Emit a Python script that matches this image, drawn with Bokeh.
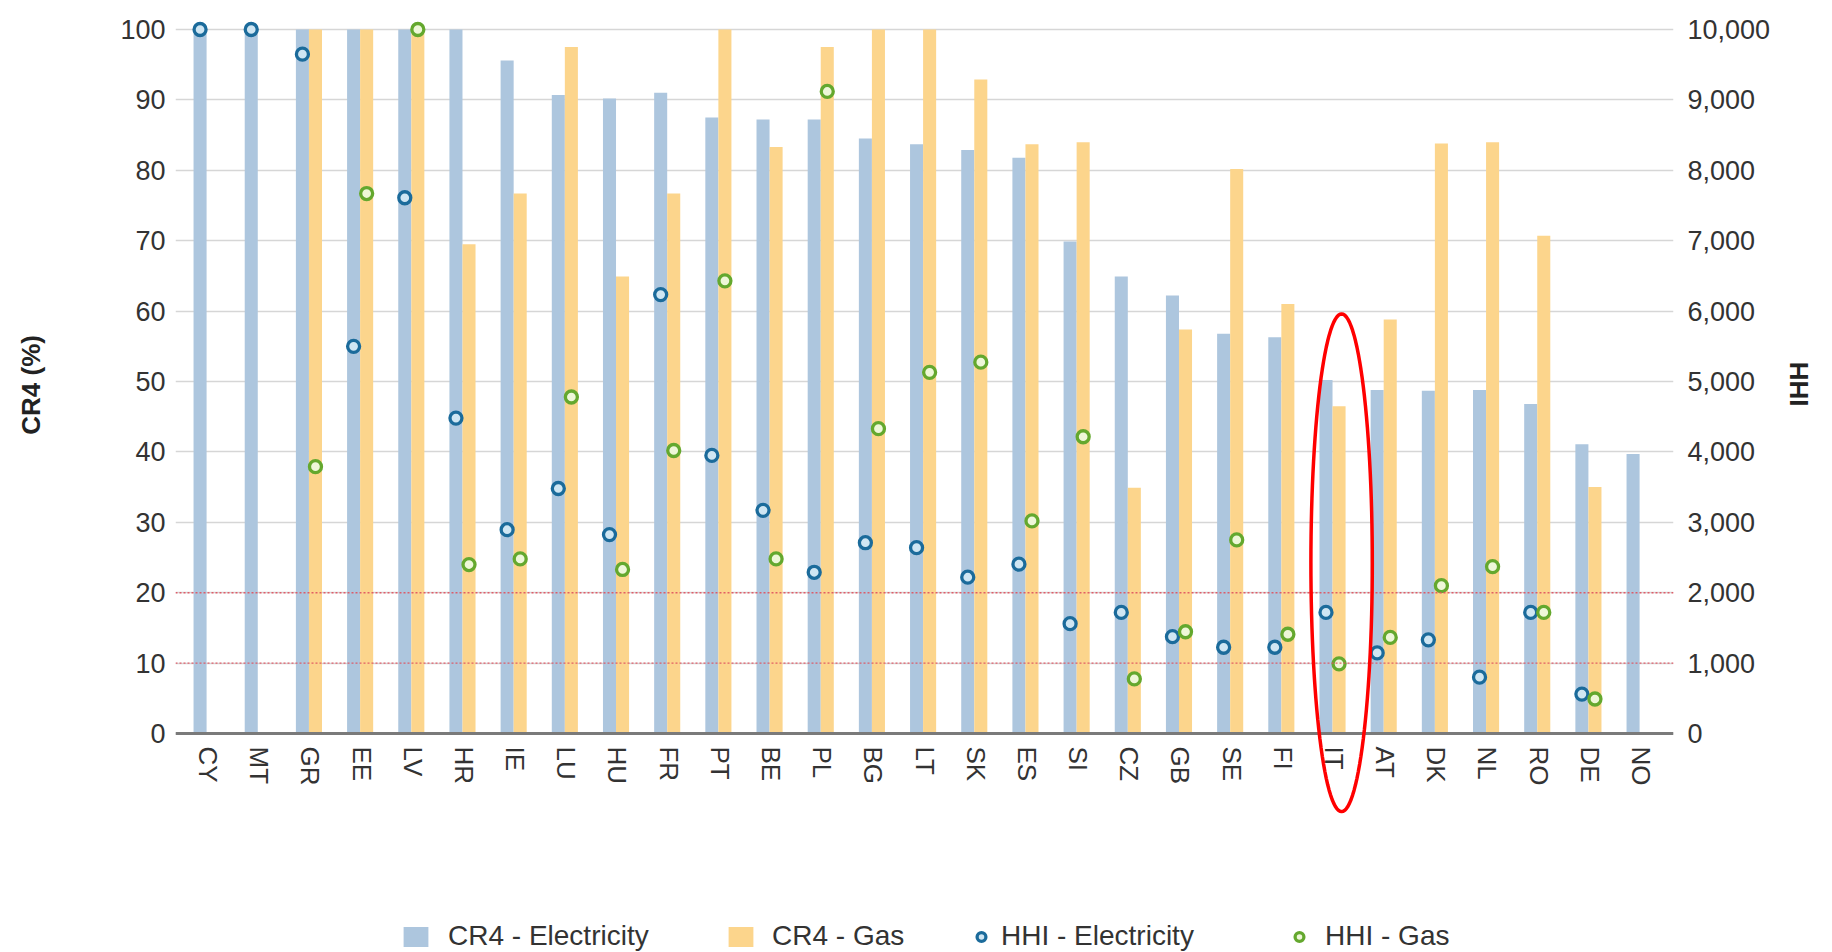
import math
from bokeh.plotting import figure
from bokeh.models import (ColumnDataSource, FactorRange, Range1d, LinearAxis, FixedTicker,
                          NumeralTickFormatter, Span, Legend, LegendItem, PolyAnnotation)
from bokeh.transform import dodge
from bokeh.embed import file_html
from bokeh.resources import INLINE

# ---------------- data ----------------
countries = ["CY", "MT", "GR", "EE", "LV", "HR", "IE", "LU", "HU", "FR", "PT", "BE", "PL", "BG",
             "LT", "SK", "ES", "SI", "CZ", "GB", "SE", "FI", "IT", "AT", "DK", "NL", "RO", "DE", "NO"]

cr4_elec = [100, 100, 100, 100, 100, 100, 95.6, 90.7, 90.2, 91.0, 87.5, 87.2, 87.2, 84.5,
            83.7, 82.9, 81.8, 69.9, 64.9, 62.2, 56.8, 56.3, 50.2, 48.8, 48.7, 48.8, 46.8, 41.1, 39.7]

cr4_gas = [None, None, 100, 100, 100, 69.5, 76.7, 97.5, 64.9, 76.7, 100, 83.3, 97.5, 100,
           100, 92.9, 83.7, 84.0, 34.9, 57.4, 80.2, 61.0, 46.5, 58.8, 83.8, 84.0, 70.7, 35.0, None]

hhi_elec = [10000, 10000, 9650, 5500, 7610, 4480, 2895, 3480, 2825, 6235, 3950, 3170, 2290, 2710,
            2640, 2220, 2405, 1560, 1720, 1375, 1225, 1225, 1720, 1145, 1330, 800, 1720, 560, None]

hhi_gas = [None, None, 3790, 7670, 10000, 2400, 2480, 4780, 2330, 4020, 6430, 2480, 9120, 4330,
           5130, 5275, 3020, 4215, 775, 1445, 2750, 1410, 990, 1365, 2100, 2370, 1720, 490, None]

cr4_ticks = list(range(0, 101, 10))
hhi_ticks = list(range(0, 10001, 1000))
threshold_lines = [10, 20]
highlight_country = "IT"

# ---------------- styling ----------------
FONT = "Liberation Sans"
TEXT = "#333333"
C_ELEC = "#adc6de"
C_GAS = "#fcd58c"
M_ELEC_LINE, M_ELEC_FILL = "#1b6b9b", "#cfe6f3"
M_GAS_LINE, M_GAS_FILL = "#64a82e", "#eef7d8"
OFF_E, OFF_G, BAR_W = -0.155, 0.10, 0.255
NB = "\u00a0"

W, H = 1832, 952
Y100_PX, Y0_PX = 29, 733          # pixel rows of the 100 line and of the 0 line
PX_PER_UNIT = (Y0_PX - Y100_PX) / 100.0
Y_TOP = 100 + 10 / PX_PER_UNIT    # small headroom so markers at 100 are not cut
TOP = Y100_PX - 10
Y_LOW = -(H - Y0_PX) / PX_PER_UNIT   # frame reaches the bottom: room for labels, ellipse, legend


def src(vals):
    cs = [c for c, v in zip(countries, vals) if v is not None]
    vs = [v for v in vals if v is not None]
    return ColumnDataSource(dict(country=cs, value=vs))


p = figure(x_range=FactorRange(factors=countries, range_padding=0.135, range_padding_units="absolute"),
           y_range=Range1d(Y_LOW, Y_TOP), width=W, height=H,
           output_backend="svg", toolbar_location=None,
           min_border_left=175, min_border_right=152, min_border_top=TOP, min_border_bottom=0)
p.outline_line_color = None
p.background_fill_color = "white"
p.extra_y_ranges = {"hhi": Range1d(Y_LOW * 100, Y_TOP * 100)}

# grid
p.xgrid.grid_line_color = None
p.ygrid.ticker = FixedTicker(ticks=cr4_ticks)
p.ygrid.grid_line_color = "#d6d6d6"
p.ygrid.grid_line_width = 1.3

# bars
r_e = p.vbar(x=dodge("country", OFF_E, range=p.x_range), top="value", width=BAR_W,
             source=src(cr4_elec), fill_color=C_ELEC, line_color=None)
r_g = p.vbar(x=dodge("country", OFF_G, range=p.x_range), top="value", width=BAR_W,
             source=src(cr4_gas), fill_color=C_GAS, line_color=None)

# threshold lines
for t in threshold_lines:
    p.add_layout(Span(location=t, dimension="width", line_color="#e0505e",
                      line_dash="2 2", line_width=1.4, line_alpha=0.9))

# HHI markers
m_e = p.scatter(x=dodge("country", OFF_E, range=p.x_range), y="value", y_range_name="hhi",
                source=src(hhi_elec), marker="circle", size=12, line_width=3.3,
                line_color=M_ELEC_LINE, fill_color=M_ELEC_FILL)
m_g = p.scatter(x=dodge("country", OFF_G, range=p.x_range), y="value", y_range_name="hhi",
                source=src(hhi_gas), marker="circle", size=12, line_width=3.3,
                line_color=M_GAS_LINE, fill_color=M_GAS_FILL)


def plain(ax, size="26px"):
    ax.major_tick_line_color = None
    ax.minor_tick_line_color = None
    ax.major_tick_out = 0
    ax.major_tick_in = 0
    ax.minor_tick_out = 0
    ax.minor_tick_in = 0
    ax.major_label_text_font = FONT
    ax.major_label_text_font_size = size
    ax.major_label_text_color = TEXT


# x axis drawn at y = 0
xa = p.xaxis[0]
plain(xa)
xa.fixed_location = 0
xa.axis_line_color = "#7a7a7a"
xa.axis_line_width = 3
xa.major_label_orientation = "vertical"
xa.major_label_standoff = 13

ya = p.yaxis[0]
plain(ya, "27px")
ya.ticker = FixedTicker(ticks=cr4_ticks)
ya.axis_line_color = None
ya.major_label_standoff = 10
ya.axis_label = NB * 28 + "CR4 (%)"
ya.axis_label_text_font = FONT
ya.axis_label_text_font_size = "26px"
ya.axis_label_text_font_style = "bold"
ya.axis_label_text_color = "#222222"
ya.axis_label_standoff = 71

ra = LinearAxis(y_range_name="hhi", ticker=FixedTicker(ticks=hhi_ticks),
                formatter=NumeralTickFormatter(format="0,0"))
plain(ra, "27px")
ra.axis_line_color = None
ra.major_label_standoff = 14
ra.axis_label = NB * 11 + "IHH"
ra.axis_label_text_font = FONT
ra.axis_label_text_font_size = "26px"
ra.axis_label_text_font_style = "bold"
ra.axis_label_text_color = "#222222"
ra.axis_label_standoff = 26
ra.axis_label_orientation = math.pi / 2
p.add_layout(ra, "right")

# red ellipse highlighting one country (decoration)
ci = countries.index(highlight_country) + 0.5 + 0.15
cy, rx, ry = 24.25, 0.60, 35.35
n = 120
ex = [ci + rx * math.cos(2 * math.pi * k / n) for k in range(n)]
ey = [cy + ry * math.sin(2 * math.pi * k / n) for k in range(n)]
p.add_layout(PolyAnnotation(xs=ex, ys=ey, xs_units="data", ys_units="data",
                            fill_alpha=0, line_color="#ff0000", line_alpha=1.0, line_width=3.5))


# legends (one per entry, placed like the original)
def add_leg(label, rend, x, gw, gh, standoff):
    leg = Legend(items=[LegendItem(label=label, renderers=[rend])], location=(x, 0),
                 orientation="horizontal", padding=0, margin=0, spacing=0,
                 border_line_color=None, background_fill_alpha=0,
                 glyph_width=gw, glyph_height=gh, label_standoff=standoff, label_height=25,
                 label_text_font=FONT, label_text_font_size="28px", label_text_color=TEXT)
    p.add_layout(leg, "center")


add_leg("CR4 - Electricity", r_e, 225, 31, 25, 17)
add_leg("CR4 - Gas", r_g, 550, 31, 25, 16)
add_leg("HHI - Electricity", m_e, 795, 22, 25, 9)
add_leg("HHI - Gas", m_g, 1113, 22, 25, 15)

open("out.html", "w").write(file_html(p, INLINE))
